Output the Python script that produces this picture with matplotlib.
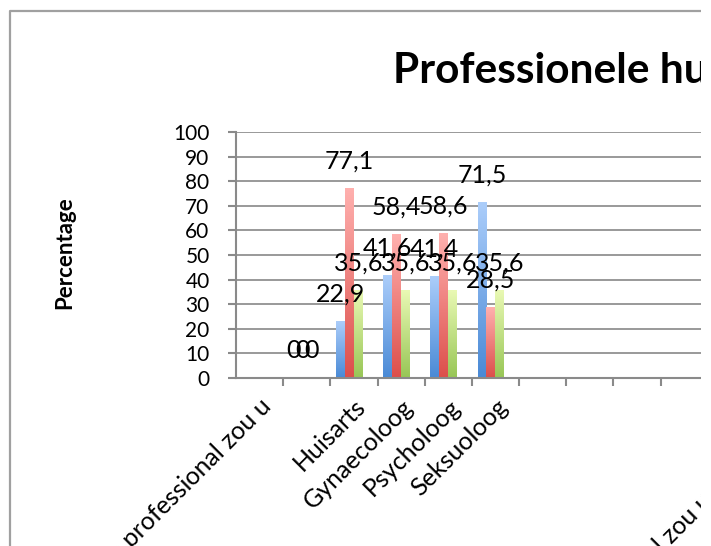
import numpy as np
import matplotlib
matplotlib.use('Agg')
import matplotlib.pyplot as plt
from matplotlib.colors import LinearSegmentedColormap
from matplotlib.lines import Line2D
from matplotlib.patches import Rectangle

plt.rcParams['font.family'] = ['Lato', 'DejaVu Sans']

# categories as they appear on the (cropped) x axis
categories = ['Bij welke professional zou u', '', 'Huisarts', 'Gynaecoloog',
              'Psycholoog', 'Seksuoloog', '', '', '', '', '',
              'Welke professional zou u professioneel']
# three series, only the first six categories carry values
serie1 = [None, 0, 22.9, 41.6, 41.4, 71.5]
serie2 = [None, 0, 77.1, 58.4, 58.6, 28.5]
serie3 = [None, 0, 35.6, 35.6, 35.6, 35.6]
yticks = list(range(0, 101, 10))

series = [serie1, serie2, serie3]
# (top colour, bottom colour) for the excel style gradients
colours = [('#abcdfa', '#4a8ad6'), ('#ffb0ae', '#dc4f4b'), ('#e9f9b4', '#98c656')]

W, H = 711, 546
fig = plt.figure(figsize=(W / 100, H / 100), dpi=100)

cat_px = 47.17
ax_left, ax_bottom, ax_top = 236, 378, 132
ax = fig.add_axes([ax_left / W, 1 - ax_bottom / H,
                   len(categories) * cat_px / W, (ax_bottom - ax_top) / H])

bw = 0.19
offsets = [-1.5 * bw, -0.5 * bw, 0.5 * bw]
x = np.arange(len(categories))

for vals, off, (top, bot) in zip(series, offsets, colours):
    cmap = LinearSegmentedColormap.from_list('g', [bot, top])
    grad = np.linspace(0, 1, 100).reshape(-1, 1)
    for i, v in enumerate(vals):
        if v is None:
            continue
        xc = x[i] + off
        if v > 0:
            ax.imshow(grad, extent=(xc - bw / 2, xc + bw / 2, 0, v), origin='lower',
                      aspect='auto', cmap=cmap, zorder=2)
        lab = ('%g' % v).replace('.', ',')
        ax.annotate(lab, (xc, v), xytext=(0, 14.4), textcoords='offset points',
                    ha='center', va='baseline', fontsize=18, zorder=4)

ax.set_xlim(-0.5, len(categories) - 0.5)
ax.set_ylim(0, 100)
ax.set_yticks(yticks)
ax.set_xticks(x)
# last (long) label is drawn separately, nudged a little to the right
ax.set_xticklabels(categories[:-1] + [''], rotation=45, ha='right', va='top',
                   rotation_mode='anchor', fontsize=18)
ax.annotate(categories[-1], (x[-1], 0), xycoords=('data', 'axes fraction'),
            xytext=(22, -2), textcoords='offset points', rotation=45,
            ha='right', va='top', rotation_mode='anchor', fontsize=18)
ax.set_xticks(x[:-1] + 0.5, minor=True)
ax.tick_params(axis='x', which='major', length=0, pad=12)
ax.tick_params(axis='x', which='minor', length=6, width=1.5, color='#8a8a8a')
ax.tick_params(axis='y', length=6, width=1.5, color='#8a8a8a', pad=13, labelsize=15)
ax.grid(axis='y', color='#999999', lw=1.4, zorder=0)
ax.set_axisbelow(True)
for s in ['top', 'right']:
    ax.spines[s].set_visible(False)
for s in ['left', 'bottom']:
    ax.spines[s].set_color('#8a8a8a')
    ax.spines[s].set_linewidth(1.5)

fig.text(393 / W, 1 - 83 / H, 'Professionele hulp', fontsize=30.5, fontweight='bold',
         ha='left', va='baseline')
fig.text(65 / W, 1 - 253 / H, 'Percentage', rotation=90, fontsize=16,
         fontweight='bold', ha='center', va='center')

# chart border (only top and left visible in the crop)
bx, by = 9.5 / W, 1 - 10.5 / H
fig.lines.append(Line2D([bx, bx, 1], [0, by, by], color='#a0a0a0', lw=1.6,
                        transform=fig.transFigure))
# the crop leaves a white strip at the right edge
fig.patches.append(Rectangle((701 / W, 0), 1, 1, facecolor='white', edgecolor='none',
                             transform=fig.transFigure, zorder=10))

fig.savefig('out.png', dpi=100)
